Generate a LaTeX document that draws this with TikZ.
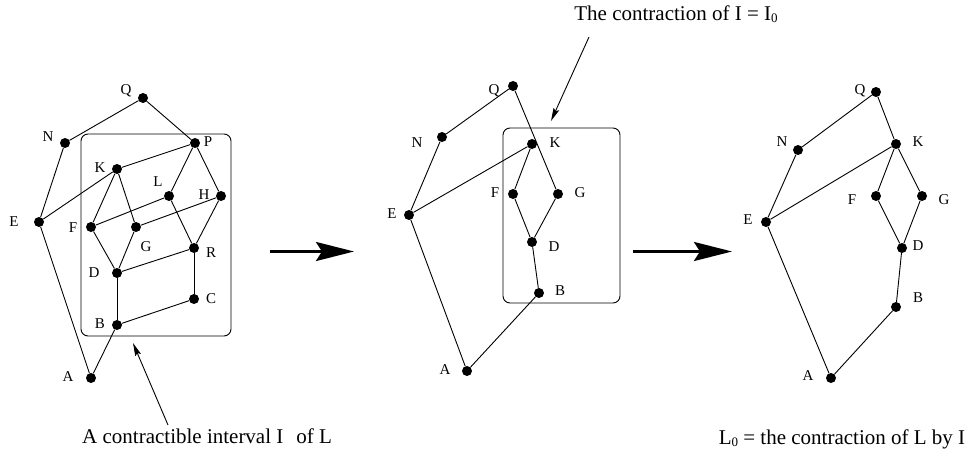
\documentclass[tikz,border=0pt]{standalone}
\usepackage{fontspec}
\setmainfont{Liberation Serif}
\usetikzlibrary{arrows.meta}
\tikzset{
  dot/.style={circle, fill=black, inner sep=0pt, minimum size=10pt},
  lab/.style={inner sep=0pt, font=\fontsize{15}{15}\selectfont},
  caption/.style={inner sep=0pt, font=\fontsize{21}{21}\selectfont},
  edge/.style={line width=0.9pt},
  frame/.style={line width=0.9pt, rounded corners=7pt},
  pointer/.style={line width=0.9pt, -{Stealth[length=13pt, width=6pt, inset=2pt]}},
  bigarrow/.style={line width=3pt, -{Stealth[length=38pt, width=19pt, inset=6pt]}}
}
\newcommand{\zerosub}{\raisebox{-2pt}{\fontsize{13}{13}\selectfont 0}}
\begin{document}
\begin{tikzpicture}[x=1pt, y=-1pt]
\useasboundingbox (0,0) rectangle (967,452);

% ---------- the lattice L ----------
\draw[frame] (81,134) rectangle (231,336);
\node[dot] (Q1) at (143,98) {};
\node[dot] (N1) at (65,143) {};
\node[dot] (P1) at (195,143) {};
\node[dot] (K1) at (117,169) {};
\node[dot] (L1) at (169,196) {};
\node[dot] (H1) at (221,196) {};
\node[dot] (E1) at (39,222) {};
\node[dot] (F1) at (91,227) {};
\node[dot] (G1) at (136,227) {};
\node[dot] (R1) at (194,248) {};
\node[dot] (D1) at (117,273) {};
\node[dot] (C1) at (194,299) {};
\node[dot] (B1) at (117,325) {};
\node[dot] (A1) at (91,378) {};
\foreach \a/\b in {Q1/N1, Q1/P1, N1/E1, E1/A1, E1/K1, P1/K1, P1/L1, P1/H1,
                   K1/F1, K1/G1, L1/F1, L1/R1, H1/G1, H1/R1, F1/D1, G1/D1,
                   D1/R1, D1/B1, R1/C1, C1/B1, B1/A1}
  \draw[edge] (\a) -- (\b);
\node[lab] (tQ1) at (126,91) {Q};
\node[lab] (tN1) at (48,137) {N};
\node[lab] (tP1) at (208,142) {P};
\node[lab] (tK1) at (100,168) {K};
\node[lab] (tL1) at (158,182) {L};
\node[lab] (tH1) at (204,195) {H};
\node[lab] (tE1) at (14,222) {E};
\node[lab] (tF1) at (73,228) {F};
\node[lab] (tG1) at (146,247) {G};
\node[lab] (tR1) at (211,253) {R};
\node[lab] (tD1) at (94,273) {D};
\node[lab] (tC1) at (211,299) {C};
\node[lab] (tB1) at (100,324) {B};
\node[lab] (tA1) at (68,377) {A};

\coordinate (ptail1) at (168,425);
\coordinate (phead1) at (133,343);
\draw[pointer] (ptail1) -- (phead1);
\node[caption, anchor=base west] (cap1) at (82,443) {A contractible interval I\hspace{13pt}of L};

% ---------- first contraction step ----------
\coordinate (s1) at (270,251.5);
\coordinate (t1) at (354,251.5);
\draw[bigarrow] (s1) -- (t1);

% ---------- L with I replaced by I0 ----------
\draw[frame] (503,128) rectangle (620,303);
\node[dot] (Q2) at (513,86) {};
\node[dot] (N2) at (442,137) {};
\node[dot] (K2) at (532,144) {};
\node[dot] (F2) at (513,194) {};
\node[dot] (G2) at (558,194) {};
\node[dot] (E2) at (409,215) {};
\node[dot] (D2) at (532,242) {};
\node[dot] (B2) at (539,293) {};
\node[dot] (A2) at (467,371) {};
\foreach \a/\b in {Q2/N2, Q2/G2, N2/E2, E2/A2, E2/K2, K2/F2, F2/D2, G2/D2,
                   D2/B2, B2/A2}
  \draw[edge] (\a) -- (\b);
\node[lab] (tQ2) at (494,91) {Q};
\node[lab] (tN2) at (417,143) {N};
\node[lab] (tK2) at (555,143) {K};
\node[lab] (tF2) at (495,193) {F};
\node[lab] (tG2) at (580,193) {G};
\node[lab] (tE2) at (392,214) {E};
\node[lab] (tD2) at (554,247) {D};
\node[lab] (tB2) at (560,291) {B};
\node[lab] (tA2) at (445,370) {A};

\coordinate (ptail2) at (589,37);
\coordinate (phead2) at (551,121);
\draw[pointer] (ptail2) -- (phead2);
\node[caption, anchor=base] (cap2) at (676,21) {The contraction of I = I\zerosub};

% ---------- second contraction step ----------
\coordinate (s2) at (633,251.5);
\coordinate (t2) at (732,251.5);
\draw[bigarrow] (s2) -- (t2);

% ---------- the contraction L0 ----------
\node[dot] (Q3) at (876,92) {};
\node[dot] (N3) at (798,150) {};
\node[dot] (K3) at (896,144) {};
\node[dot] (F3) at (876,196) {};
\node[dot] (G3) at (922,196) {};
\node[dot] (E3) at (766,222) {};
\node[dot] (D3) at (902,248) {};
\node[dot] (B3) at (896,307) {};
\node[dot] (A3) at (831,378) {};
\foreach \a/\b in {Q3/N3, Q3/K3, N3/E3, E3/A3, E3/K3, K3/F3, K3/G3, F3/D3,
                   G3/D3, D3/B3, B3/A3}
  \draw[edge] (\a) -- (\b);
\node[lab] (tQ3) at (860,91) {Q};
\node[lab] (tN3) at (782,142) {N};
\node[lab] (tK3) at (918,142) {K};
\node[lab] (tF3) at (852,200) {F};
\node[lab] (tG3) at (944,200) {G};
\node[lab] (tE3) at (748,220) {E};
\node[lab] (tD3) at (918,246) {D};
\node[lab] (tB3) at (918,298) {B};
\node[lab] (tA3) at (808,376) {A};

\node[caption, anchor=base] (cap3) at (842,444) {L\zerosub\ = the contraction of L by I};
\end{tikzpicture}
\end{document}
